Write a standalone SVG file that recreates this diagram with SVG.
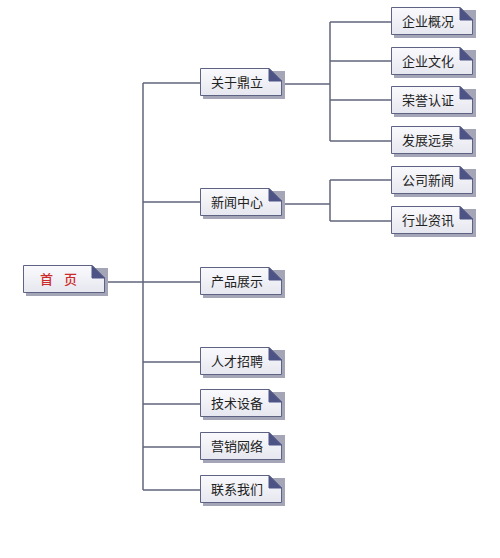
<svg xmlns="http://www.w3.org/2000/svg" width="500" height="558" viewBox="0 0 500 558">
<defs>
<linearGradient id="g" x1="0" y1="0" x2="0" y2="1">
<stop offset="0" stop-color="#fafafd"/>
<stop offset="1" stop-color="#e6e7ef"/>
</linearGradient>
<symbol id="note" viewBox="0 0 82 28" width="82" height="28" overflow="visible">
<rect x="3" y="3" width="82" height="28" fill="#a4a6b8"/>
<path d="M0.5,0.5 H69 L81.5,13 V27.5 H0.5 Z" fill="url(#g)" stroke="#5e6384" stroke-width="1"/>
<path d="M69,0.5 V13 H81.5 Z" fill="#4d5485" stroke="#4d5485" stroke-width="1" stroke-linejoin="round"/>
</symbol>
</defs>
<style>
.t{font-family:"Noto Sans CJK SC","Noto Sans",sans-serif;font-size:13px;fill:#222;}
.r{fill:#cc2a2a;font-weight:500;}
.c{stroke:#62667c;stroke-width:1.5;fill:none;}
</style>
<rect width="500" height="558" fill="#fff"/>
<g id="connectors">
<path class="c" d="M105,282 H143 M143,83 V490 M143,83 H200 M143,202 H200 M143,282 H200 M143,362 H200 M143,404 H200 M143,447 H200 M143,490 H200"/>
<path class="c" d="M282,84 H330 M330,22 V141 M330,22 H391 M330,61 H391 M330,100 H391 M330,141 H391"/>
<path class="c" d="M282,204 H330 M330,180 V221 M330,180 H391 M330,221 H391"/>
</g>
<g id="n-home"><use href="#note" x="23" y="265"/><text class="t r" x="40 64" y="284">首页</text></g>
<g id="n-about"><use href="#note" x="200" y="68"/><text class="t" x="211" y="87">关于鼎立</text></g>
<g id="n-news"><use href="#note" x="200" y="188"/><text class="t" x="211" y="207">新闻中心</text></g>
<g id="n-products"><use href="#note" x="200" y="267"/><text class="t" x="211" y="286">产品展示</text></g>
<g id="n-jobs"><use href="#note" x="200" y="347"/><text class="t" x="211" y="366">人才招聘</text></g>
<g id="n-tech"><use href="#note" x="200" y="389"/><text class="t" x="211" y="408">技术设备</text></g>
<g id="n-sales"><use href="#note" x="200" y="432"/><text class="t" x="211" y="451">营销网络</text></g>
<g id="n-contact"><use href="#note" x="200" y="475"/><text class="t" x="211" y="494">联系我们</text></g>
<g id="n-overview"><use href="#note" x="391" y="7"/><text class="t" x="402" y="26">企业概况</text></g>
<g id="n-culture"><use href="#note" x="391" y="47"/><text class="t" x="402" y="66">企业文化</text></g>
<g id="n-honor"><use href="#note" x="391" y="86"/><text class="t" x="402" y="105">荣誉认证</text></g>
<g id="n-vision"><use href="#note" x="391" y="126"/><text class="t" x="402" y="145">发展远景</text></g>
<g id="n-cnews"><use href="#note" x="391" y="166"/><text class="t" x="402" y="185">公司新闻</text></g>
<g id="n-inews"><use href="#note" x="391" y="206"/><text class="t" x="402" y="225">行业资讯</text></g>
</svg>
